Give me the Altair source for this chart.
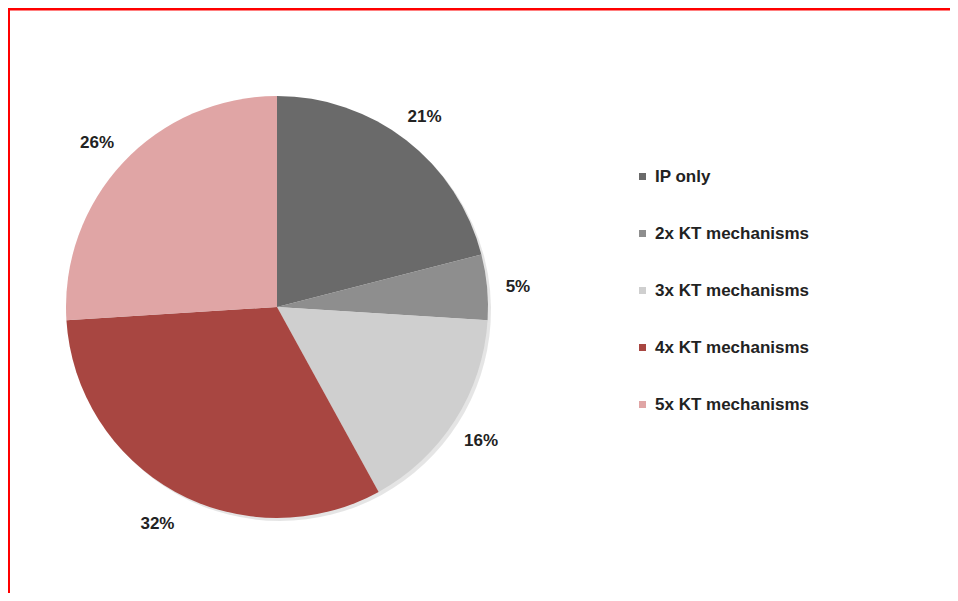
import altair as alt
import pandas as pd

categories = ["IP only", "2x KT mechanisms", "3x KT mechanisms", "4x KT mechanisms", "5x KT mechanisms"]
values = [21, 5, 16, 32, 26]
labels = ["21%", "5%", "16%", "32%", "26%"]
colors = ["#6a6a6a", "#8e8e8e", "#cfcfcf", "#a84641", "#e0a5a5"]

df = pd.DataFrame({"cat": categories, "val": values, "lab": labels, "idx": list(range(len(values)))})

CX, CY, R = 269, 299, 211

base = alt.Chart(df).encode(
    theta=alt.Theta("val:Q", stack=True),
    order=alt.Order("idx:Q"),
)

shadow = base.mark_arc(outerRadius=R, color="#000000", opacity=0.10).encode(
    x=alt.value(CX + 3), y=alt.value(CY + 3)
)

pie = base.mark_arc(outerRadius=R, stroke=None).encode(
    x=alt.value(CX), y=alt.value(CY),
    color=alt.Color(
        "cat:N",
        scale=alt.Scale(domain=categories, range=colors),
        sort=categories,
        legend=alt.Legend(
            title=None, orient="none", legendX=626, legendY=160,
            symbolType="square", symbolSize=49, symbolStrokeWidth=0,
            labelFont="Liberation Sans", labelFontWeight="bold", labelFontSize=17,
            labelColor="#222222", labelOffset=4, rowPadding=39, padding=0,
            labelLimit=300,
        ),
    ),
)

text = base.mark_text(
    radius=244, font="Liberation Sans", fontWeight="bold", fontSize=17, color="#222222"
).encode(x=alt.value(CX - 2), y=alt.value(CY + 3), text="lab:N")

border = alt.Chart(pd.DataFrame({"a": [0]}))
top_line = border.mark_rule(color="#ff0000", strokeWidth=3).encode(
    x=alt.value(0), x2=alt.value(942), y=alt.value(1)
)
left_line = border.mark_rule(color="#ff0000", strokeWidth=2).encode(
    x=alt.value(1), y=alt.value(0), y2=alt.value(585)
)

chart = alt.layer(shadow, pie, text, top_line, left_line).properties(
    width=942, height=585, autosize=alt.AutoSizeParams(type="none"), padding=0
).configure_view(stroke=None)

chart.save("out.html", embed_options={"renderer": "svg", "actions": False})
